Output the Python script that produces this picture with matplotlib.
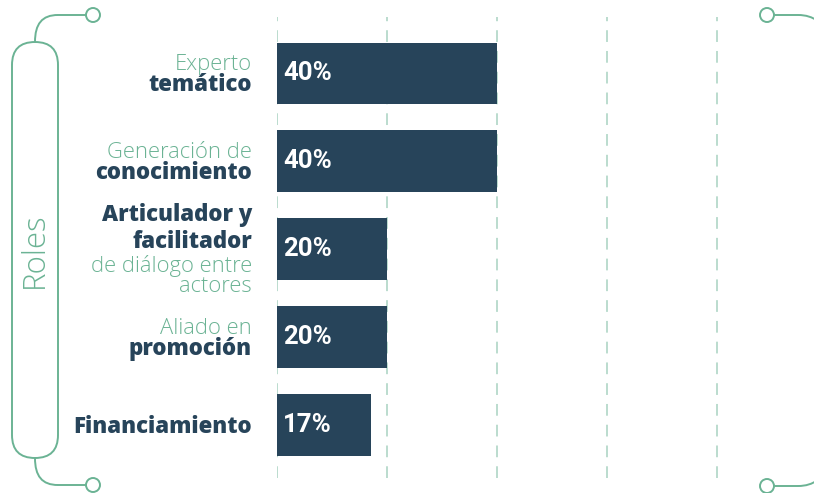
import matplotlib
matplotlib.use("Agg")
import matplotlib.pyplot as plt
from matplotlib.patches import FancyBboxPatch, Circle, PathPatch
from matplotlib.path import Path

# roles and the share of each one
role_lines = [
    ["Experto", "temático"],
    ["Generación de", "conocimiento"],
    ["Articulador y", "facilitador", "de diálogo entre", "actores"],
    ["Aliado en", "promoción"],
    ["Financiamiento"],
]
role_bold = [
    [False, True],
    [False, True],
    [True, True, False, False],
    [False, True],
    [True],
]
shares = [40, 40, 20, 20, 17]
grid_ticks = [0, 20, 40, 60, 80]
frame_title = "Roles"

NAVY = "#27445A"
GREEN = "#6BB394"
GRID = "#B5D9CA"

fig = plt.figure(figsize=(8.14, 4.93), dpi=100)

# decoration layer in pixel units
deco = fig.add_axes([0, 0, 1, 1], zorder=0)
deco.set_xlim(0, 814)
deco.set_ylim(493, 0)
deco.set_axis_off()

deco.add_patch(FancyBboxPatch((12, 42), 46, 416,
                              boxstyle="round,pad=0,rounding_size=23",
                              fill=False, ec=GREEN, lw=1.4))
top = Path([(35, 42), (35, 24), (42, 15), (58, 15), (86, 15)],
           [Path.MOVETO, Path.CURVE4, Path.CURVE4, Path.CURVE4, Path.LINETO])
bot = Path([(35, 458), (35, 476), (42, 485), (58, 485), (86, 485)],
           [Path.MOVETO, Path.CURVE4, Path.CURVE4, Path.CURVE4, Path.LINETO])
rtop = Path([(774, 15), (798, 15), (806, 15), (812, 17), (818, 21)],
            [Path.MOVETO, Path.LINETO, Path.CURVE4, Path.CURVE4, Path.CURVE4])
rbot = Path([(774, 486), (798, 486), (806, 486), (812, 484), (818, 480)],
            [Path.MOVETO, Path.LINETO, Path.CURVE4, Path.CURVE4, Path.CURVE4])
for p in (top, bot, rtop, rbot):
    deco.add_patch(PathPatch(p, fill=False, ec=GREEN, lw=1.4))
for cx, cy in [(93, 15), (93, 485), (767, 15), (767, 486)]:
    deco.add_patch(Circle((cx, cy), 7, fill=True, fc="white", ec=GREEN, lw=1.4))
deco.text(35, 250, frame_title, rotation=90, ha="center", va="center",
          fontsize=22.5, color=GREEN, family="Open Sans", fontweight="light")

# bar chart
ax = fig.add_axes([277 / 814, 15 / 493, 467.5 / 814, 461 / 493], zorder=1)
ax.patch.set_alpha(0)
ypos = list(range(len(shares)))
for t in grid_ticks:
    ax.axvline(t, color=GRID, lw=1.3, dashes=(6.5, 5), zorder=0)
ax.barh(ypos, shares, height=0.7, color=NAVY, zorder=2)
ax.set_xlim(0, 85)
ax.set_ylim(4.6, -0.64)
ax.set_axis_off()

for i, v in enumerate(shares):
    ax.annotate(f"{v}%", xy=(0, i), xytext=(6, 0), textcoords="offset pixels",
                ha="left", va="center", color="white", fontsize=18.5,
                fontweight="bold", family="Roboto", zorder=3)

# stacked role labels to the left of the bars
for i, (lines, bold) in enumerate(zip(role_lines, role_bold)):
    offs = [0.0]
    for k in range(1, len(lines)):
        if bold[k - 1] and bold[k]:
            step = 27
        elif bold[k - 1]:
            step = 24
        elif bold[k]:
            step = 21
        else:
            step = 20
        offs.append(offs[-1] + step)
    mid = (offs[0] + offs[-1]) / 2 - 1.5
    for line, b, o in zip(lines, bold, offs):
        ax.annotate(line, xy=(0, i), xytext=(-25, -(o - mid)),
                    textcoords="offset pixels", ha="right", va="center",
                    fontsize=16 if b else 15.8, family="Open Sans",
                    fontweight="heavy" if b else "light",
                    color=NAVY if b else GREEN, annotation_clip=False)

fig.savefig("out.png", dpi=100)
